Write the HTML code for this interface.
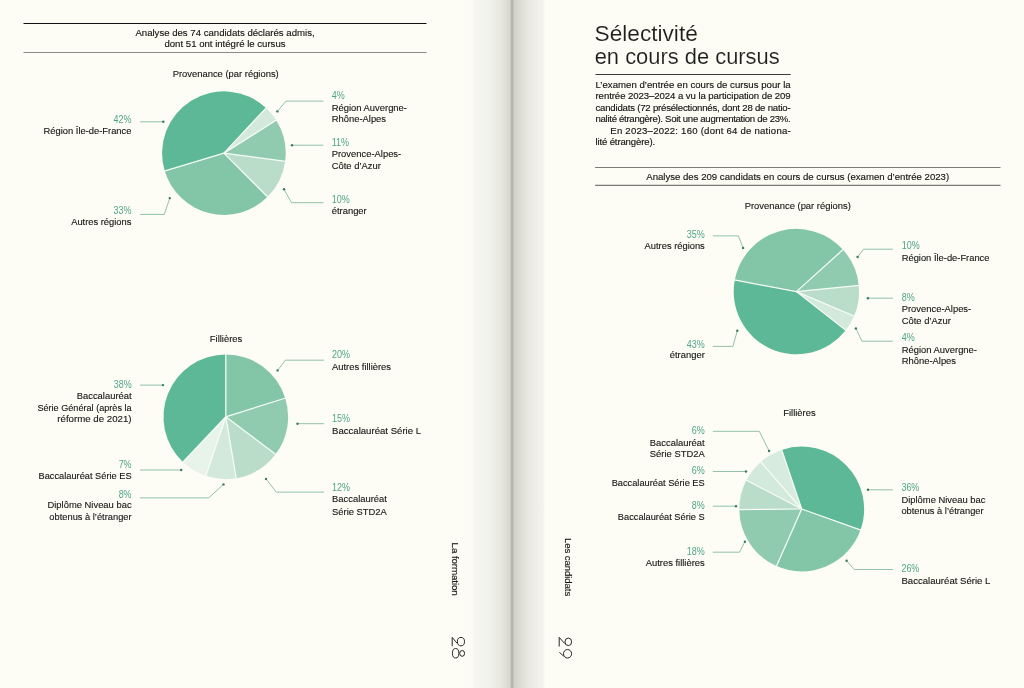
<!DOCTYPE html>
<html><head><meta charset="utf-8"><style>
html,body{margin:0;padding:0;background:#fdfdf5;}
svg{display:block;will-change:transform;}
text{font-family:"Liberation Sans",sans-serif;fill:#141414;}
.l{font-size:9.7px;stroke:#141414;stroke-width:0.12px;}
.p{font-size:10.2px;fill:#4ea487;}
.h{font-size:9.6px;stroke:#141414;stroke-width:0.14px;}
.H{font-size:22px;fill:#1e1e1e;stroke:#fdfdf5;stroke-width:0.12px;}
.P{font-size:9.6px;stroke:#141414;stroke-width:0.15px;}
.v{font-size:9.6px;letter-spacing:-0.15px;stroke:#141414;stroke-width:0.15px;}
.n{font-size:18px;font-weight:normal;fill:none;stroke:#222;stroke-width:0.6px;}
</style></head><body>
<svg width="1024" height="688" viewBox="0 0 1024 688">
<rect width="1024" height="688" fill="#fdfdf5"/>
<defs><linearGradient id="gut" x1="468" x2="552" y1="0" y2="0" gradientUnits="userSpaceOnUse">
<stop offset="0.0000" stop-color="#fdfdf5"/>
<stop offset="0.0512" stop-color="#fcfcf5"/>
<stop offset="0.0655" stop-color="#f8f8f1"/>
<stop offset="0.1429" stop-color="#f5f5ef"/>
<stop offset="0.2619" stop-color="#f1f1eb"/>
<stop offset="0.3810" stop-color="#e8e8e1"/>
<stop offset="0.4524" stop-color="#dfdfd7"/>
<stop offset="0.4952" stop-color="#d7d7cf"/>
<stop offset="0.5048" stop-color="#cbcbc3"/>
<stop offset="0.5131" stop-color="#bcbcb4"/>
<stop offset="0.5214" stop-color="#b2b2aa"/>
<stop offset="0.5310" stop-color="#b5b5ad"/>
<stop offset="0.5393" stop-color="#c3c3bb"/>
<stop offset="0.5476" stop-color="#cfcfc7"/>
<stop offset="0.5595" stop-color="#d3d3cb"/>
<stop offset="0.6012" stop-color="#d9d9d1"/>
<stop offset="0.6548" stop-color="#e1e1d9"/>
<stop offset="0.7202" stop-color="#e9e9e2"/>
<stop offset="0.8095" stop-color="#efefe8"/>
<stop offset="0.8929" stop-color="#f3f3ed"/>
<stop offset="0.9107" stop-color="#f9f9f2"/>
<stop offset="0.9286" stop-color="#fdfdf5"/>
<stop offset="1.0000" stop-color="#fdfdf5"/>
</linearGradient></defs>
<rect x="468" y="0" width="84" height="688" fill="url(#gut)"/>
<line x1="23.5" y1="23.5" x2="426.5" y2="23.5" stroke="#111" stroke-width="1"/>
<line x1="23.5" y1="52.5" x2="426.5" y2="52.5" stroke="#8a8a86" stroke-width="1.2"/>
<text x="225" y="35.8" text-anchor="middle" class="h">Analyse des 74 candidats déclarés admis,</text>
<text x="225" y="46.6" text-anchor="middle" class="h">dont 51 ont intégré le cursus</text>
<text transform="translate(225.7,76.5) scale(0.97,1)" text-anchor="middle" class="l">Provenance (par régions)</text>
<path d="M223.90,153.15 L164.74,171.01 A61.8,61.8 0 0 1 266.05,107.95 Z" fill="#5cb896"/>
<path d="M223.90,153.15 L266.05,107.95 A61.8,61.8 0 0 1 276.19,120.22 Z" fill="#d2e9db"/>
<path d="M223.90,153.15 L276.19,120.22 A61.8,61.8 0 0 1 285.16,161.32 Z" fill="#90cbaf"/>
<path d="M223.90,153.15 L285.16,161.32 A61.8,61.8 0 0 1 267.60,196.85 Z" fill="#b9ddc9"/>
<path d="M223.90,153.15 L267.60,196.85 A61.8,61.8 0 0 1 164.74,171.01 Z" fill="#83c6a7"/>
<line x1="223.90" y1="153.15" x2="164.26" y2="171.16" stroke="#f6fcf6" stroke-width="1.25"/>
<line x1="223.90" y1="153.15" x2="266.39" y2="107.59" stroke="#f6fcf6" stroke-width="1.25"/>
<line x1="223.90" y1="153.15" x2="276.62" y2="119.95" stroke="#f6fcf6" stroke-width="1.25"/>
<line x1="223.90" y1="153.15" x2="285.65" y2="161.39" stroke="#f6fcf6" stroke-width="1.25"/>
<line x1="223.90" y1="153.15" x2="267.95" y2="197.20" stroke="#f6fcf6" stroke-width="1.25"/>
<text transform="translate(131.4,122.5) scale(0.88,1)" text-anchor="end" class="p">42%</text>
<text transform="translate(131.4,133.6) scale(0.965,1)" text-anchor="end" class="l">Région Île-de-France</text>
<polyline points="140.1,121.8 163.3,121.8" fill="none" stroke="#93c1ab" stroke-width="1"/><circle cx="163.3" cy="121.8" r="1.2" fill="#3a7a60"/>
<text transform="translate(131.4,214.1) scale(0.88,1)" text-anchor="end" class="p">33%</text>
<text transform="translate(131.4,225.2) scale(0.965,1)" text-anchor="end" class="l">Autres régions</text>
<polyline points="140.1,214.4 164.3,214.4 169.8,198.1" fill="none" stroke="#93c1ab" stroke-width="1"/><circle cx="169.8" cy="198.1" r="1.2" fill="#3a7a60"/>
<text transform="translate(331.7,99.3) scale(0.88,1)" text-anchor="start" class="p">4%</text>
<text transform="translate(331.7,110.6) scale(0.97,1)" text-anchor="start" class="l">Région Auvergne-</text>
<text transform="translate(331.7,122.0) scale(0.97,1)" text-anchor="start" class="l">Rhône-Alpes</text>
<polyline points="323.5,101.1 286.0,101.1 277.4,111.4" fill="none" stroke="#93c1ab" stroke-width="1"/><circle cx="277.4" cy="111.4" r="1.2" fill="#3a7a60"/>
<text transform="translate(331.7,145.8) scale(0.88,1)" text-anchor="start" class="p">11%</text>
<text transform="translate(331.7,157.3) scale(0.97,1)" text-anchor="start" class="l">Provence-Alpes-</text>
<text transform="translate(331.7,168.5) scale(0.97,1)" text-anchor="start" class="l">Côte d’Azur</text>
<polyline points="323.5,145.2 292.0,145.2" fill="none" stroke="#93c1ab" stroke-width="1"/><circle cx="292.0" cy="145.2" r="1.2" fill="#3a7a60"/>
<text transform="translate(331.7,203.1) scale(0.88,1)" text-anchor="start" class="p">10%</text>
<text transform="translate(331.7,214.3) scale(0.97,1)" text-anchor="start" class="l">étranger</text>
<polyline points="323.5,202.7 291.5,202.7 284.0,189.2" fill="none" stroke="#93c1ab" stroke-width="1"/><circle cx="284.0" cy="189.2" r="1.2" fill="#3a7a60"/>
<text transform="translate(226,341.7) scale(0.97,1)" text-anchor="middle" class="l">Fillières</text>
<path d="M225.80,416.80 L225.80,354.50 A62.3,62.3 0 0 1 285.25,398.17 Z" fill="#83c6a7"/>
<path d="M225.80,416.80 L285.25,398.17 A62.3,62.3 0 0 1 275.55,454.29 Z" fill="#90cbaf"/>
<path d="M225.80,416.80 L275.55,454.29 A62.3,62.3 0 0 1 236.19,478.23 Z" fill="#b9ddc9"/>
<path d="M225.80,416.80 L236.19,478.23 A62.3,62.3 0 0 1 205.88,475.83 Z" fill="#d2e9db"/>
<path d="M225.80,416.80 L205.88,475.83 A62.3,62.3 0 0 1 182.92,461.99 Z" fill="#e8f3ea"/>
<path d="M225.80,416.80 L182.92,461.99 A62.3,62.3 0 0 1 225.80,354.50 Z" fill="#5cb896"/>
<line x1="225.80" y1="416.80" x2="225.80" y2="354.00" stroke="#f6fcf6" stroke-width="1.25"/>
<line x1="225.80" y1="416.80" x2="285.73" y2="398.02" stroke="#f6fcf6" stroke-width="1.25"/>
<line x1="225.80" y1="416.80" x2="275.95" y2="454.59" stroke="#f6fcf6" stroke-width="1.25"/>
<line x1="225.80" y1="416.80" x2="236.27" y2="478.72" stroke="#f6fcf6" stroke-width="1.25"/>
<line x1="225.80" y1="416.80" x2="205.72" y2="476.30" stroke="#f6fcf6" stroke-width="1.25"/>
<line x1="225.80" y1="416.80" x2="182.57" y2="462.35" stroke="#f6fcf6" stroke-width="1.25"/>
<text transform="translate(131.6,387.5) scale(0.88,1)" text-anchor="end" class="p">38%</text>
<text transform="translate(131.6,399.1) scale(0.97,1)" text-anchor="end" class="l">Baccalauréat</text>
<text transform="translate(131.6,410.9) scale(0.94,1)" text-anchor="end" class="l">Série Général (après la</text>
<text x="131.6" y="422.3" text-anchor="end" class="l">réforme de 2021)</text>
<polyline points="140.0,385.1 163.0,385.1" fill="none" stroke="#93c1ab" stroke-width="1"/><circle cx="163.0" cy="385.1" r="1.2" fill="#3a7a60"/>
<text transform="translate(131.6,468.2) scale(0.88,1)" text-anchor="end" class="p">7%</text>
<text transform="translate(131.6,479.3) scale(0.955,1)" text-anchor="end" class="l">Baccalauréat Série ES</text>
<polyline points="140.0,470.0 181.2,470.0" fill="none" stroke="#93c1ab" stroke-width="1"/><circle cx="181.2" cy="470.0" r="1.2" fill="#3a7a60"/>
<text transform="translate(131.6,497.5) scale(0.88,1)" text-anchor="end" class="p">8%</text>
<text transform="translate(131.6,508.4) scale(0.97,1)" text-anchor="end" class="l">Diplôme Niveau bac</text>
<text transform="translate(131.6,520) scale(0.96,1)" text-anchor="end" class="l">obtenus à l’étranger</text>
<polyline points="140.0,497.9 208.6,497.9 223.5,484.4" fill="none" stroke="#93c1ab" stroke-width="1"/><circle cx="223.5" cy="484.4" r="1.2" fill="#3a7a60"/>
<text transform="translate(332,358.3) scale(0.88,1)" text-anchor="start" class="p">20%</text>
<text transform="translate(332,369.8) scale(0.97,1)" text-anchor="start" class="l">Autres fillières</text>
<polyline points="324.0,360.2 285.3,360.2 277.6,370.4" fill="none" stroke="#93c1ab" stroke-width="1"/><circle cx="277.6" cy="370.4" r="1.2" fill="#3a7a60"/>
<text transform="translate(332,422.1) scale(0.88,1)" text-anchor="start" class="p">15%</text>
<text transform="translate(332,433.9) scale(0.99,1)" text-anchor="start" class="l">Baccalauréat Série L</text>
<polyline points="324.0,423.7 297.5,423.7" fill="none" stroke="#93c1ab" stroke-width="1"/><circle cx="297.5" cy="423.7" r="1.2" fill="#3a7a60"/>
<text transform="translate(332,491.4) scale(0.88,1)" text-anchor="start" class="p">12%</text>
<text transform="translate(332,502.3) scale(0.97,1)" text-anchor="start" class="l">Baccalauréat</text>
<text transform="translate(332,514.5) scale(0.97,1)" text-anchor="start" class="l">Série STD2A</text>
<polyline points="324.0,492.1 276.2,492.1 266.0,478.9" fill="none" stroke="#93c1ab" stroke-width="1"/><circle cx="266.0" cy="478.9" r="1.2" fill="#3a7a60"/>
<text transform="translate(451.7,542.6) rotate(90)" class="v" style="font-size:9.9px;letter-spacing:-0.15px">La formation</text>
<g transform="translate(452.2,637.2) rotate(90)" fill="none" stroke="#1e1e1e" stroke-width="0.95"><path d="M9.0,0 L0.2,0 L6.2,-5.0"/><ellipse cx="4.4" cy="-8.75" rx="4.2" ry="3.55"/><ellipse cx="16.05" cy="-3.45" rx="4.75" ry="3.2"/><ellipse cx="16.2" cy="-9.95" rx="2.9" ry="2.45"/></g>
<text x="594.6" y="40.6" class="H" textLength="103.2" lengthAdjust="spacingAndGlyphs">Sélectivité</text>
<text x="594.7" y="64.2" class="H" textLength="185" lengthAdjust="spacingAndGlyphs">en cours de cursus</text>
<line x1="595.5" y1="74.5" x2="790.7" y2="74.5" stroke="#3a3a3a" stroke-width="1"/>
<text x="595.5" y="87.7" class="P" textLength="195.2" lengthAdjust="spacing">L’examen d’entrée en cours de cursus pour la</text>
<text x="595.5" y="99.2" class="P" textLength="195.2" lengthAdjust="spacing">rentrée 2023–2024 a vu la participation de 209</text>
<text x="595.5" y="110.7" class="P" textLength="195.2" lengthAdjust="spacing">candidats (72 présélectionnés, dont 28 de natio-</text>
<text x="595.5" y="122.2" class="P" textLength="195.2" lengthAdjust="spacing">nalité étrangère). Soit une augmentation de 23%.</text>
<text x="610.3" y="133.7" class="P" textLength="180.4" lengthAdjust="spacing">En 2023–2022: 160 (dont 64 de nationa-</text>
<text x="595.5" y="145.2" class="P" style="letter-spacing:-0.15px">lité étrangère).</text>
<line x1="595.1" y1="167.5" x2="1000.5" y2="167.5" stroke="#7a7a76" stroke-width="1.1"/>
<line x1="595.1" y1="185.4" x2="1000.5" y2="185.4" stroke="#7a7a76" stroke-width="1.1"/>
<text x="797.7" y="179.9" text-anchor="middle" class="h">Analyse des 209 candidats en cours de cursus (examen d’entrée 2023)</text>
<text transform="translate(797.75,208.7) scale(0.97,1)" text-anchor="middle" class="l">Provenance (par régions)</text>
<path d="M796.40,291.60 L843.00,249.65 A62.7,62.7 0 0 1 858.80,285.48 Z" fill="#90cbaf"/>
<path d="M796.40,291.60 L858.80,285.48 A62.7,62.7 0 0 1 854.12,316.10 Z" fill="#b9ddc9"/>
<path d="M796.40,291.60 L854.12,316.10 A62.7,62.7 0 0 1 845.74,330.29 Z" fill="#d2e9db"/>
<path d="M796.40,291.60 L845.74,330.29 A62.7,62.7 0 0 1 734.77,280.07 Z" fill="#5cb896"/>
<path d="M796.40,291.60 L734.77,280.07 A62.7,62.7 0 0 1 843.00,249.65 Z" fill="#83c6a7"/>
<line x1="796.40" y1="291.60" x2="843.37" y2="249.31" stroke="#f6fcf6" stroke-width="1.25"/>
<line x1="796.40" y1="291.60" x2="859.30" y2="285.43" stroke="#f6fcf6" stroke-width="1.25"/>
<line x1="796.40" y1="291.60" x2="854.58" y2="316.29" stroke="#f6fcf6" stroke-width="1.25"/>
<line x1="796.40" y1="291.60" x2="846.13" y2="330.60" stroke="#f6fcf6" stroke-width="1.25"/>
<line x1="796.40" y1="291.60" x2="734.28" y2="279.97" stroke="#f6fcf6" stroke-width="1.25"/>
<text transform="translate(704.8,238.0) scale(0.88,1)" text-anchor="end" class="p">35%</text>
<text transform="translate(704.8,249) scale(0.965,1)" text-anchor="end" class="l">Autres régions</text>
<polyline points="712.8,235.9 738.4,235.9 743.1,247.9" fill="none" stroke="#93c1ab" stroke-width="1"/><circle cx="743.1" cy="247.9" r="1.2" fill="#3a7a60"/>
<text transform="translate(704.8,347.6) scale(0.88,1)" text-anchor="end" class="p">43%</text>
<text transform="translate(704.8,358.4) scale(0.97,1)" text-anchor="end" class="l">étranger</text>
<polyline points="712.8,346.4 732.9,346.4 737.3,330.7" fill="none" stroke="#93c1ab" stroke-width="1"/><circle cx="737.3" cy="330.7" r="1.2" fill="#3a7a60"/>
<text transform="translate(901.7,248.6) scale(0.88,1)" text-anchor="start" class="p">10%</text>
<text transform="translate(901.7,260.5) scale(0.965,1)" text-anchor="start" class="l">Région Île-de-France</text>
<polyline points="892.9,249.2 863.5,249.2 857.6,257.0" fill="none" stroke="#93c1ab" stroke-width="1"/><circle cx="857.6" cy="257.0" r="1.2" fill="#3a7a60"/>
<text transform="translate(901.7,301.0) scale(0.88,1)" text-anchor="start" class="p">8%</text>
<text transform="translate(901.7,312.4) scale(0.97,1)" text-anchor="start" class="l">Provence-Alpes-</text>
<text transform="translate(901.7,324.2) scale(0.97,1)" text-anchor="start" class="l">Côte d’Azur</text>
<polyline points="892.9,298.2 867.9,298.2" fill="none" stroke="#93c1ab" stroke-width="1"/><circle cx="867.9" cy="298.2" r="1.2" fill="#3a7a60"/>
<text transform="translate(901.7,341.3) scale(0.88,1)" text-anchor="start" class="p">4%</text>
<text transform="translate(901.7,353.2) scale(0.97,1)" text-anchor="start" class="l">Région Auvergne-</text>
<text transform="translate(901.7,364.1) scale(0.97,1)" text-anchor="start" class="l">Rhône-Alpes</text>
<polyline points="892.9,341.2 862.0,341.2 855.9,328.5" fill="none" stroke="#93c1ab" stroke-width="1"/><circle cx="855.9" cy="328.5" r="1.2" fill="#3a7a60"/>
<text transform="translate(799.4,416.2) scale(0.97,1)" text-anchor="middle" class="l">Fillières</text>
<path d="M801.70,509.00 L781.69,449.89 A62.4,62.4 0 0 1 860.48,529.93 Z" fill="#5cb896"/>
<path d="M801.70,509.00 L860.48,529.93 A62.4,62.4 0 0 1 776.52,566.09 Z" fill="#83c6a7"/>
<path d="M801.70,509.00 L776.52,566.09 A62.4,62.4 0 0 1 739.30,509.54 Z" fill="#90cbaf"/>
<path d="M801.70,509.00 L739.30,509.54 A62.4,62.4 0 0 1 746.35,480.19 Z" fill="#b9ddc9"/>
<path d="M801.70,509.00 L746.35,480.19 A62.4,62.4 0 0 1 760.76,461.91 Z" fill="#d2e9db"/>
<path d="M801.70,509.00 L760.76,461.91 A62.4,62.4 0 0 1 781.69,449.89 Z" fill="#d7ebde"/>
<line x1="801.70" y1="509.00" x2="781.53" y2="449.42" stroke="#f6fcf6" stroke-width="1.25"/>
<line x1="801.70" y1="509.00" x2="860.96" y2="530.10" stroke="#f6fcf6" stroke-width="1.25"/>
<line x1="801.70" y1="509.00" x2="776.32" y2="566.55" stroke="#f6fcf6" stroke-width="1.25"/>
<line x1="801.70" y1="509.00" x2="738.80" y2="509.55" stroke="#f6fcf6" stroke-width="1.25"/>
<line x1="801.70" y1="509.00" x2="745.91" y2="479.96" stroke="#f6fcf6" stroke-width="1.25"/>
<line x1="801.70" y1="509.00" x2="760.43" y2="461.53" stroke="#f6fcf6" stroke-width="1.25"/>
<text transform="translate(704.7,434.2) scale(0.88,1)" text-anchor="end" class="p">6%</text>
<text transform="translate(704.7,445.7) scale(0.97,1)" text-anchor="end" class="l">Baccalauréat</text>
<text transform="translate(704.7,456.9) scale(0.97,1)" text-anchor="end" class="l">Série STD2A</text>
<polyline points="712.8,431.3 759.3,431.3 769.1,451.0" fill="none" stroke="#93c1ab" stroke-width="1"/><circle cx="769.1" cy="451.0" r="1.2" fill="#3a7a60"/>
<text transform="translate(704.7,473.7) scale(0.88,1)" text-anchor="end" class="p">6%</text>
<text transform="translate(704.7,485.9) scale(0.955,1)" text-anchor="end" class="l">Baccalauréat Série ES</text>
<polyline points="712.8,471.5 746.0,471.5" fill="none" stroke="#93c1ab" stroke-width="1"/><circle cx="746.0" cy="471.5" r="1.2" fill="#3a7a60"/>
<text transform="translate(704.7,508.6) scale(0.88,1)" text-anchor="end" class="p">8%</text>
<text transform="translate(704.7,520.3) scale(0.955,1)" text-anchor="end" class="l">Baccalauréat Série S</text>
<polyline points="712.8,506.2 736.0,506.2" fill="none" stroke="#93c1ab" stroke-width="1"/><circle cx="736.0" cy="506.2" r="1.2" fill="#3a7a60"/>
<text transform="translate(704.7,555.1) scale(0.88,1)" text-anchor="end" class="p">18%</text>
<text transform="translate(704.7,566.2) scale(0.97,1)" text-anchor="end" class="l">Autres fillières</text>
<polyline points="712.8,552.2 739.5,552.2 744.9,541.7" fill="none" stroke="#93c1ab" stroke-width="1"/><circle cx="744.9" cy="541.7" r="1.2" fill="#3a7a60"/>
<text transform="translate(901.4,491.4) scale(0.88,1)" text-anchor="start" class="p">36%</text>
<text transform="translate(901.4,503.1) scale(0.97,1)" text-anchor="start" class="l">Diplôme Niveau bac</text>
<text transform="translate(901.4,514.4) scale(0.96,1)" text-anchor="start" class="l">obtenus à l’étranger</text>
<polyline points="892.9,489.8 868.0,489.8" fill="none" stroke="#93c1ab" stroke-width="1"/><circle cx="868.0" cy="489.8" r="1.2" fill="#3a7a60"/>
<text transform="translate(901.4,572.1) scale(0.88,1)" text-anchor="start" class="p">26%</text>
<text transform="translate(901.4,583.9) scale(0.99,1)" text-anchor="start" class="l">Baccalauréat Série L</text>
<polyline points="892.9,569.5 854.2,569.5 846.6,560.7" fill="none" stroke="#93c1ab" stroke-width="1"/><circle cx="846.6" cy="560.7" r="1.2" fill="#3a7a60"/>
<text transform="translate(565.2,538) rotate(90)" class="v" style="letter-spacing:-0.08px">Les candidats</text>
<g transform="translate(559.2,637.2) rotate(90)" fill="none" stroke="#1e1e1e" stroke-width="0.95"><path d="M9.3,0 L0.2,0 L6.3,-5.5"/><ellipse cx="4.65" cy="-9.1" rx="3.75" ry="3.3"/><ellipse cx="16.55" cy="-8.35" rx="4.25" ry="4.05"/><path d="M15.2,-0.2 L19.0,-4.6"/></g>
</svg>
</body></html>
